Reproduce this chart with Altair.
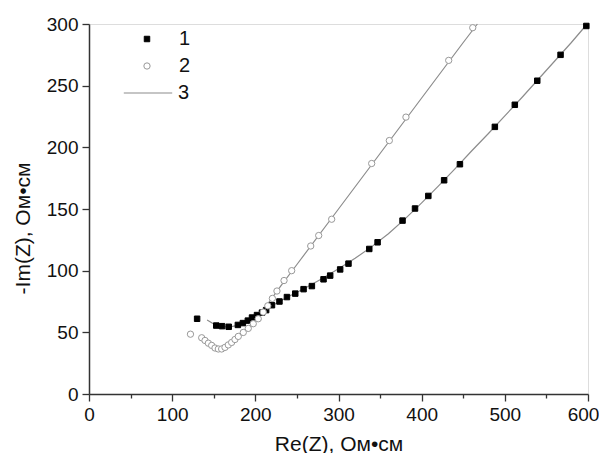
import altair as alt
import pandas as pd

# Series 1 (filled squares)
x1 = [130, 153, 160, 168, 179, 185, 191, 196, 202, 208, 213, 220, 229, 238, 248, 258, 268,
      282, 290, 302, 312, 337, 347, 377, 392, 408, 427, 446, 488, 512, 539, 567, 598]
y1 = [61, 55.5, 55, 54.5, 56, 57.5, 59.5, 62, 64, 66, 68, 72, 75, 78.6, 81.4, 85, 87.5,
      93, 96, 101, 105.7, 117.6, 123, 140.6, 150.4, 160.6, 173.3, 186.3, 216.6, 234.5, 254, 275, 298.4]

# Series 2 (open circles)
x2 = [122, 135.5, 139.5, 143.5, 147.5, 151.5, 155.5, 159.5, 163.5, 167.5, 171.5, 175.5, 179.5,
      185.5, 191.5, 197.5, 203.5, 209.5, 215, 220.5, 226, 234.5, 243.7, 266.6, 276.2, 291.8,
      339.9, 361.1, 381.1, 432.5, 461.4]
y2 = [48.5, 45.6, 43.4, 41.2, 39.4, 37.3, 36.5, 36.5, 37.8, 39.8, 41.8, 44.2, 46.7,
      49.9, 53.2, 57, 61, 66.4, 71.5, 77.5, 83.5, 92, 100, 120, 128.5, 141.7,
      186.9, 205.5, 224.5, 270.5, 297]

# Fit curves (3)
f1x = [142, 148, 155, 162, 170, 180, 190, 200, 210, 220, 240, 260, 280, 300, 320, 340, 360,
       380, 400, 420, 440, 460, 480, 500, 520, 540, 560, 580, 599]
f1y = [60, 57.5, 55.5, 54.6, 54.5, 55.8, 59, 63.5, 67.5, 71.5, 79, 86, 93.5, 101.5, 110, 119.5, 130,
       142, 155, 168.5, 182.5, 197, 211, 225.5, 240, 255, 270, 285, 300]
f2x = [133, 140, 147, 153, 158, 163, 170, 180, 190, 200, 210, 230, 250, 300, 350, 400, 450, 467]
f2y = [46.5, 42.3, 38.8, 36.6, 36, 37, 40.5, 46.5, 53, 60, 68.5, 87, 105, 150, 195, 240, 285, 300]

x_ticks = list(range(0, 601, 50))
y_ticks = list(range(0, 301, 25))

pts = pd.DataFrame({
    "x": x1 + x2,
    "y": y1 + y2,
    "series": ["1"] * len(x1) + ["2"] * len(x2),
})
fits = pd.DataFrame({
    "x": f1x + f2x,
    "y": f1y + f2y,
    "curve": ["a"] * len(f1x) + ["b"] * len(f2x),
    "fit": ["3"] * (len(f1x) + len(f2x)),
    "order": list(range(len(f1x))) + list(range(len(f2x))),
})

FONT = "Liberation Sans"
AX = "#333333"
TXT = "#111111"

xaxis = alt.Axis(
    values=x_ticks,
    labelExpr="datum.value % 100 === 0 ? datum.label : ''",
    tickSize={"condition": {"test": "datum.value % 100 === 0", "value": 7}, "value": 4},
    labelOffset={"condition": {"test": "datum.value === 600", "value": -5}, "value": 0},
    grid=False, labelFlush=False, labelOverlap=False,
    labelFont=FONT, labelFontSize=19, labelColor=TXT, labelPadding=4,
    domainColor=AX, domainWidth=1.5, tickColor=AX, tickWidth=1.3,
    title="Re(Z), Ом•см", titleFont=FONT, titleFontSize=21, titleFontWeight="normal",
    titleColor=TXT, titleBaseline="alphabetic", titleY=56,
)
yaxis = alt.Axis(
    values=y_ticks,
    labelExpr="datum.value % 50 === 0 ? datum.label : ''",
    tickSize={"condition": {"test": "datum.value % 50 === 0", "value": 7}, "value": 4},
    grid=False, labelFlush=False, labelOverlap=False,
    labelFont=FONT, labelFontSize=19, labelColor=TXT, labelPadding=4,
    domainColor=AX, domainWidth=1.5, tickColor=AX, tickWidth=1.3,
    title="-Im(Z), Ом•см", titleFont=FONT, titleFontSize=21, titleFontWeight="normal",
    titleColor=TXT, titleAngle=270, titleBaseline="alphabetic", titleAlign="center",
    titleX=-60, titleY=204,
)

xs = alt.Scale(domain=[0, 600], nice=False, zero=False)
ys = alt.Scale(domain=[0, 300], nice=False, zero=False)

pt_legend = alt.Legend(
    orient="none", legendX=48, legendY=5, title=None,
    labelFont=FONT, labelFontSize=20, labelColor=TXT, labelOffset=22,
    symbolStrokeWidth=1, rowPadding=7, padding=0,
)
line_legend = alt.Legend(
    orient="none", legendX=34, legendY=44, title=None,
    labelFont=FONT, labelFontSize=20, labelColor=TXT, labelOffset=5,
    symbolType="stroke", symbolSize=2343, symbolStrokeWidth=1.2, padding=0,
)

lines = alt.Chart(fits).mark_line(strokeWidth=1.2).encode(
    x=alt.X("x:Q", scale=xs, axis=xaxis),
    y=alt.Y("y:Q", scale=ys, axis=yaxis),
    detail="curve:N",
    order="order:Q",
    color=alt.Color("fit:N", scale=alt.Scale(domain=["3"], range=["#8c8c8c"]), legend=line_legend),
)

points = alt.Chart(pts).mark_point(opacity=1, strokeWidth=1).encode(
    x=alt.X("x:Q", scale=xs),
    y=alt.Y("y:Q", scale=ys),
    shape=alt.Shape("series:N", scale=alt.Scale(domain=["1", "2"], range=["square", "circle"]), legend=pt_legend),
    fill=alt.Fill("series:N", scale=alt.Scale(domain=["1", "2"], range=["#000000", "#ffffff"]), legend=pt_legend),
    stroke=alt.Stroke("series:N", scale=alt.Scale(domain=["1", "2"], range=["#000000", "#999999"]), legend=pt_legend),
    size=alt.Size("series:N", scale=alt.Scale(domain=["1", "2"], range=[30, 40]), legend=pt_legend),
)

chart = alt.layer(lines, points).properties(
    width=499, height=370,
    autosize=alt.AutoSizeParams(type="none"),
    padding={"left": 81, "top": 16, "right": 11, "bottom": 59},
).configure_view(stroke=None).configure(background="white")

chart.save("out.html", embed_options={"renderer": "svg", "actions": False})
